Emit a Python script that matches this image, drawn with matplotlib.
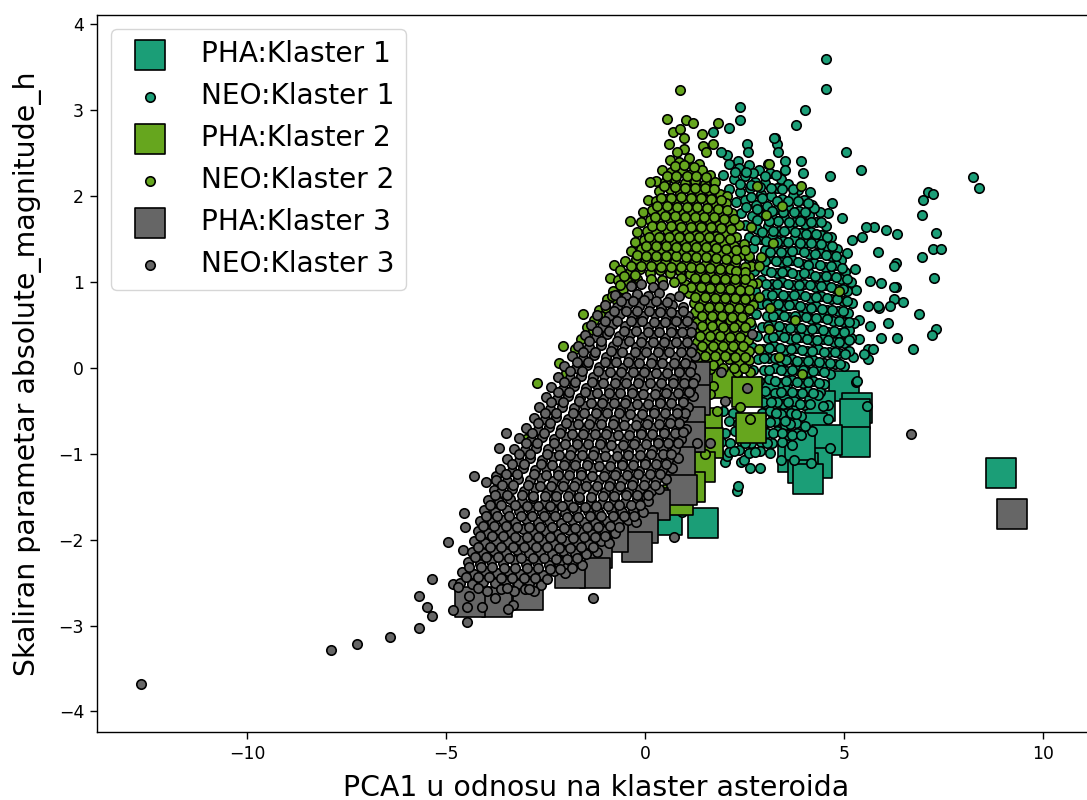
import numpy as np
import matplotlib
matplotlib.use("Agg")
import matplotlib.pyplot as plt

colors = ["#1b9e77", "#66a61e", "#666666"]
labels = ["Klaster 1", "Klaster 2", "Klaster 3"]

pha1 = [(5.0,-0.21),(5.33,-0.47),(5.28,-0.54),(5.28,-0.86),(4.4,-0.44),(4.2,-0.7),(4.57,-0.84),(3.72,-1.04),
        (4.32,-1.11),(3.97,-1.17),(4.1,-1.29),(3.5,-0.5),(3.9,-0.9),(3.3,-0.3),(8.94,-1.22),(1.46,-1.81),(0.55,-1.77)]
pha2 = [(2.06,-0.17),(2.56,-0.28),(2.66,-0.7),(1.56,-0.64),(1.58,-0.87),(1.38,-1.15),(1.13,-1.39),(0.83,-1.54)]
pha3 = [(9.22,-1.7),(1.26,-0.1),(1.26,-0.37),(1.13,-0.63),(1.13,-0.8),(0.88,-1.1),(0.93,-1.42),(0.2,-1.57),
        (0.25,-1.6),(-0.05,-1.86),(-0.2,-2.08),(-0.8,-1.97),(-1.2,-2.16),(-1.26,-2.39),(-1.88,-2.39),(-2.94,-2.65),
        (-3.72,-2.73),(-4.4,-2.73)]

neo1 = [
    (4.55,3.6),(4.55,3.25),(4.02,3.0),(3.8,2.83),(3.27,2.68),(3.3,2.61),(3.34,2.52),(5.05,2.52),(5.43,2.31),(4.65,2.24),
    (8.24,2.22),(8.39,2.09),(7.11,2.05),(7.24,2.02),(6.98,1.96),(6.96,1.78),(7.31,1.57),(7.24,1.39),(7.44,1.39),(6.96,1.29),
    (6.33,1.56),(6.06,1.61),(5.75,1.64),(5.55,1.64),(5.45,1.53),(5.2,1.49),(5.85,1.35),(7.26,1.05),(6.31,1.22),(6.26,1.19),
    (5.65,1.01),(5.93,0.99),(6.31,0.94),(6.26,0.94),(6.26,0.8),(6.48,0.77),(6.16,0.72),(5.88,0.7),(5.85,0.72),(5.6,0.72),
    (6.88,0.63),(6.11,0.52),(5.65,0.49),(5.38,0.56),(7.31,0.45),(7.21,0.38),(6.33,0.35),(5.93,0.35),(5.38,0.34),(5.18,0.35),
    (6.73,0.22),(5.6,0.22),(5.73,0.22),(5.6,0.1),(5.5,0.16),(5.3,-0.16),(5.08,1.34),(5.28,1.15),(5.3,0.91),(5.22,0.13),
    (4.7,1.92),(4.6,1.8),(4.95,1.75),(4.15,2.05),(3.97,2.27),(3.92,2.41),(3.52,2.41),(3.52,2.31),(2.39,3.04),(2.39,2.89),
    (2.11,2.79),(1.71,2.75),(3.24,2.68),(2.56,2.61),(2.59,2.51),(2.34,2.41),(2.06,2.48),(1.91,2.51),(2.3,-1.43),(2.34,-1.38),
    (2.0,-1.1),(2.4,-1.1),(2.64,-1.16),(2.89,-1.16),(2.49,-1.07),(2.06,-1.02),(3.41,-1.07),(3.74,-1.07),(4.17,-1.11),(5.33,-0.15),
    (5.58,-0.44),(4.65,-0.93),(4.2,-0.73),(4.6,-0.6),(4.6,-0.43),(4.47,-0.44),(4.4,-0.28),(0.93,-1.68),(1.26,-1.4),
    (2.1,2.38),(2.35,2.33),(2.62,2.36),(2.85,2.3),(3.14,2.27),(3.4,2.2),(1.95,2.25),(2.22,2.2),(2.5,2.24),(2.76,2.17),
    (3.02,2.15),(3.3,2.1),(3.58,2.14),(3.83,2.07),(2.1,2.08),(2.38,2.05),(2.63,2.1),(2.9,2.02),(3.17,2.0),(3.44,1.97),
    (3.72,2.0),(3.98,1.95),(4.18,1.9),(2.27,1.93),(2.52,1.96),(2.79,1.9),(3.05,1.88),(3.3,1.85),(3.6,1.88),(3.86,1.83),
    (4.12,1.78),(4.38,1.82),(2.4,1.8),(2.68,1.77),(2.95,1.78),(3.2,1.74),(3.48,1.76),(3.75,1.7),(4.02,1.68),(4.28,1.7),
    (4.55,1.65),(2.5,1.66),(2.8,1.62),(3.08,1.65),(3.35,1.6),(3.62,1.63),(3.9,1.57),(4.16,1.58),(4.42,1.55),(4.68,1.52),
    (2.6,1.52),(2.9,1.5),(3.18,1.53),(3.46,1.48),(3.74,1.5),(4.02,1.45),(4.28,1.46),(4.56,1.42),(4.82,1.38),(2.72,1.4),
    (3.0,1.37),(3.28,1.4),(3.56,1.35),(3.84,1.38),(4.12,1.33),(4.4,1.34),(4.68,1.3),(4.92,1.26),(2.62,1.27),(2.88,1.25),
    (3.14,1.28),(3.42,1.23),(3.7,1.26),(3.96,1.21),(4.24,1.22),(4.52,1.18),(4.8,1.2),(5.02,1.12),(2.74,1.13),(3.02,1.14),
    (3.3,1.1),(3.56,1.13),(3.84,1.08),(4.12,1.1),(4.38,1.06),(4.66,1.08),(4.92,1.04),(5.16,1.0),(2.62,1.0),(2.9,1.02),
    (3.18,0.98),(3.44,1.0),(3.72,0.96),(4.0,0.98),(4.26,0.94),(4.54,0.96),(4.8,0.92),(5.06,0.9),(2.76,0.89),(3.04,0.86),
    (3.32,0.88),(3.6,0.84),(3.88,0.86),(4.14,0.82),(4.42,0.84),(4.68,0.8),(4.96,0.78),(5.2,0.76),(2.64,0.76),(2.92,0.74),
    (3.2,0.76),(3.48,0.72),(3.74,0.74),(4.02,0.7),(4.3,0.72),(4.56,0.68),(4.84,0.66),(5.1,0.64),(2.78,0.63),(3.06,0.6),
    (3.34,0.63),(3.62,0.59),(3.9,0.6),(4.16,0.57),(4.44,0.59),(4.72,0.55),(4.98,0.53),(5.24,0.52),(2.66,0.5),(2.94,0.48),
    (3.22,0.5),(3.5,0.46),(3.78,0.48),(4.04,0.44),(4.32,0.46),(4.6,0.42),(4.86,0.41),(5.12,0.44),(2.8,0.37),(3.08,0.35),
    (3.36,0.38),(3.64,0.34),(3.92,0.36),(4.18,0.32),(4.46,0.34),(4.74,0.3),(5.0,0.29),(2.68,0.24),(2.96,0.22),(3.24,0.25),
    (3.52,0.21),(3.8,0.23),(4.06,0.2),(4.34,0.22),(4.62,0.18),(4.88,0.17),(5.12,0.2),(2.56,0.11),(2.84,0.1),(3.12,0.12),
    (3.4,0.08),(3.68,0.1),(3.94,0.07),(4.22,0.09),(4.5,0.06),(4.76,0.05),(5.0,0.02),(2.7,-0.02),(2.98,-0.03),(3.26,0.0),
    (3.54,-0.04),(3.82,-0.02),(4.1,-0.05),(4.36,-0.03),(4.64,-0.07),(2.86,-0.15),(3.12,-0.13),(3.4,-0.17),(3.68,-0.14),(3.96,-0.18),
    (4.22,-0.15),(4.5,-0.19),(3.0,-0.27),(3.26,-0.29),(3.54,-0.26),(3.82,-0.3),(4.08,-0.27),(4.34,-0.31),(2.96,-0.4),(3.2,-0.38),
    (3.46,-0.42),(3.74,-0.39),(4.0,-0.43),(2.2,-0.52),(2.94,-0.52),(3.14,-0.5),(3.4,-0.54),(3.66,-0.52),(3.92,-0.56),(2.1,-0.62),
    (2.34,-0.65),(3.0,-0.64),(3.26,-0.62),(3.52,-0.66),(3.78,-0.64),(4.02,-0.68),(2.0,-0.76),(2.26,-0.74),(3.06,-0.76),(3.32,-0.74),
    (3.58,-0.78),(3.82,-0.76),(1.9,-0.86),(2.14,-0.88),(2.4,-0.85),(2.66,-0.88),(2.92,-0.86),(3.18,-0.88),(3.44,-0.86),(3.68,-0.9),
    (1.84,-0.97),(2.1,-0.98),(2.36,-0.96),(2.62,-0.99),(2.88,-0.97),(3.14,-0.99),(1.8,-0.7),(1.96,-0.5),
    (2.26,2.28),(2.72,2.27),(3.0,2.24),(2.38,2.14),(2.88,2.11),(3.44,2.08),(2.66,1.99),(3.3,1.94),(3.84,1.94),(2.54,1.87),
    (3.18,1.83),(3.74,1.82),(4.25,1.86),(2.82,1.72),(3.34,1.71),(3.88,1.71),(4.42,1.7),(2.94,1.58),(3.48,1.6),(4.04,1.56),
    (4.56,1.53),(2.76,1.49),(3.32,1.47),(3.88,1.45),(4.42,1.44),(3.14,1.35),(3.7,1.36),(4.26,1.33),(4.8,1.3),(3.0,1.25),
    (3.56,1.24),(4.1,1.2),(4.66,1.19),(3.16,1.12),(3.7,1.11),(4.26,1.07),(4.8,1.06),(3.04,0.98),(3.58,0.98),(4.14,0.96),
    (4.68,0.94),(3.18,0.85),(3.74,0.85),(4.28,0.83),(4.82,0.8),(3.06,0.74),(3.62,0.73),(4.16,0.7),(4.7,0.68),(3.2,0.61),
    (3.76,0.6),(4.3,0.58),(4.86,0.55),(3.08,0.49),(3.64,0.47),(4.18,0.45),(4.74,0.43),(3.22,0.36),(3.78,0.35),(4.32,0.33),
    (4.86,0.3),(3.1,0.23),(3.66,0.22),(4.2,0.2),(4.76,0.18),(2.98,0.11),(3.54,0.09),(4.08,0.08),(4.64,0.06),(3.12,-0.02),
    (3.68,-0.03),(4.22,-0.04),(3.26,-0.15),(3.82,-0.16),(4.36,-0.17),(3.4,-0.28),(3.94,-0.29),(3.32,-0.4),(3.88,-0.42),(3.28,-0.52),
    (3.78,-0.54),(3.14,-0.63),(3.64,-0.65),(3.2,-0.76),(3.7,-0.78),(3.05,-0.87),(2.52,-0.87),(2.24,-0.97),(2.76,-0.98),
    (2.54,2.28),(3.28,2.25),(2.66,2.13),(3.16,2.1),(3.72,2.08),(2.94,1.98),(3.58,1.94),(4.1,1.92),(2.82,1.85),(3.46,1.82),
    (4.02,1.82),(3.1,1.71),(3.62,1.7),(4.16,1.7),(3.22,1.59),(3.76,1.58),(4.3,1.56),(3.04,1.48),(3.6,1.47),(4.16,1.45),
    (4.7,1.42),(3.42,1.35),(3.98,1.35),(4.54,1.32),(3.28,1.24),(3.84,1.23),(4.38,1.2),(4.94,1.16),(3.44,1.12),(3.98,1.1),
    (4.54,1.07),(5.06,1.04),(3.32,0.98),(3.86,0.97),(4.42,0.95),(4.96,0.92),(3.46,0.85),(4.02,0.84),(4.56,0.82),(5.08,0.78),
    (3.34,0.74),(3.9,0.72),(4.44,0.69),(4.98,0.66),(3.48,0.61),(4.04,0.59),(4.58,0.57),(5.12,0.54),(3.36,0.49),(3.92,0.46),
    (4.46,0.44),(5.0,0.42),(3.5,0.36),(4.06,0.34),(4.6,0.32),(5.12,0.32),(3.38,0.23),(3.94,0.21),(4.48,0.19),(5.02,0.16),
    (3.26,0.11),(3.82,0.08),(4.36,0.07),(4.9,0.05),(3.4,-0.02),(3.96,-0.03),(4.5,-0.05),(3.54,-0.15),(4.1,-0.16),(3.68,-0.28),
    (4.22,-0.29),(3.6,-0.4),(3.16,-0.4),(4.14,-0.42),(3.52,-0.62),(3.44,-0.76),(3.92,-0.78),
]

neo2 = [
    (0.88,3.24),(0.55,2.9),(1.03,2.89),(1.21,2.85),(1.83,2.85),(0.7,2.75),(0.88,2.78),(0.98,2.68),(0.6,2.61),(1.43,2.72),
    (1.71,2.61),(1.46,2.58),(0.98,2.55),(0.8,2.51),(1.53,2.51),(3.09,2.38),(-0.38,1.71),(-1.56,0.63),(-0.78,1.2),(-0.88,1.05),
    (-2.71,-0.17),(-2.06,0.26),(-2.16,0.06),(-1.98,-0.06),(-3.0,-0.83),(-4.15,-2.53),(3.12,2.38),(3.92,2.12),(3.44,1.88),(3.04,1.78),
    (2.66,1.64),(3.22,1.46),(2.91,1.29),(2.66,1.19),(2.86,1.19),(2.81,0.99),(2.86,0.83),(3.14,0.7),(4.87,0.89),(3.77,0.56),
    (3.12,0.45),(2.86,0.22),(3.37,0.13),(3.94,-0.07),(2.64,-0.59),(1.51,-1.0),(1.81,-0.5),(2.39,-0.46),(1.71,-0.21),(2.31,-0.05),
    (2.64,-0.05),(0.62,2.42),(0.85,2.4),(1.1,2.44),(1.34,2.38),(0.42,2.3),(0.66,2.28),(0.92,2.31),(1.16,2.26),(1.42,2.3),
    (1.64,2.25),(0.26,2.18),(0.5,2.17),(0.76,2.2),(1.0,2.15),(1.26,2.18),(1.5,2.14),(1.76,2.16),(2.8,2.12),(0.13,2.16),
    (0.36,2.06),(0.62,2.08),(0.88,2.04),(1.12,2.07),(1.38,2.03),(1.62,2.06),(1.88,2.02),(2.06,2.0),(0.06,1.96),(0.28,1.94),
    (0.52,1.97),(0.78,1.93),(1.02,1.96),(1.28,1.92),(1.54,1.95),(1.78,1.9),(2.02,1.92),(-0.05,1.82),(0.18,1.84),(0.42,1.81),
    (0.68,1.85),(0.94,1.8),(1.18,1.83),(1.44,1.79),(1.68,1.82),(1.94,1.78),(2.18,1.8),(-0.1,1.7),(0.12,1.72),(0.36,1.69),
    (0.62,1.73),(0.86,1.68),(1.12,1.71),(1.36,1.67),(1.62,1.7),(1.86,1.66),(2.12,1.68),(2.36,1.66),(-0.2,1.58),(0.04,1.6),
    (0.28,1.57),(0.54,1.61),(0.78,1.56),(1.04,1.59),(1.28,1.55),(1.54,1.58),(1.78,1.54),(2.04,1.57),(2.28,1.53),(-0.25,1.47),
    (-0.02,1.49),(0.22,1.46),(0.48,1.5),(0.72,1.45),(0.98,1.48),(1.22,1.44),(1.48,1.47),(1.72,1.43),(1.98,1.46),(2.22,1.42),
    (2.48,1.44),(-0.35,1.36),(-0.1,1.38),(0.14,1.34),(0.4,1.38),(0.64,1.33),(0.9,1.36),(1.14,1.32),(1.4,1.35),(1.64,1.31),
    (1.9,1.34),(2.14,1.3),(2.4,1.32),(2.6,1.3),(-0.5,1.25),(-0.24,1.27),(0.0,1.23),(0.26,1.26),(0.5,1.22),(0.76,1.25),
    (1.0,1.21),(1.26,1.24),(1.5,1.2),(1.76,1.23),(2.0,1.19),(2.26,1.22),(2.5,1.18),(-0.62,1.14),(-0.38,1.12),(-0.12,1.15),
    (0.12,1.11),(0.38,1.14),(0.62,1.1),(0.88,1.13),(1.12,1.09),(1.38,1.12),(1.62,1.08),(1.88,1.11),(2.12,1.07),(2.38,1.1),
    (2.6,1.06),(-0.68,1.02),(-0.44,1.0),(-0.2,1.03),(1.0,0.98),(1.26,1.01),(1.5,0.97),(1.76,1.0),(2.0,0.96),(2.26,0.99),
    (2.5,0.95),(2.68,0.98),(-0.8,0.9),(-0.56,0.92),(-0.95,0.8),(-0.7,0.78),(1.1,0.87),(1.36,0.9),(1.6,0.86),(1.86,0.89),
    (2.1,0.85),(2.36,0.88),(2.6,0.84),(-1.15,0.68),(-0.98,0.7),(1.22,0.76),(1.46,0.79),(1.72,0.75),(1.96,0.78),(2.22,0.74),
    (2.46,0.77),(2.7,0.73),(-1.28,0.56),(-1.1,0.6),(1.26,0.65),(1.54,0.67),(1.8,0.64),(2.04,0.67),(2.3,0.63),(2.56,0.66),
    (-1.46,0.48),(-1.3,0.44),(1.3,0.53),(1.62,0.55),(1.88,0.52),(2.12,0.56),(2.38,0.52),(2.64,0.54),(-1.6,0.34),(1.26,0.42),
    (1.5,0.44),(1.76,0.41),(2.0,0.44),(2.26,0.4),(2.5,0.43),(-1.75,0.22),(1.3,0.3),(1.56,0.33),(1.82,0.3),(2.08,0.33),
    (2.32,0.29),(2.58,0.32),(1.36,0.19),(1.62,0.21),(1.88,0.18),(2.14,0.22),(2.38,0.18),(2.62,0.2),(1.32,0.08),(1.58,0.1),
    (1.84,0.07),(2.1,0.1),(2.36,0.06),(2.6,0.09),(1.4,-0.03),(1.64,-0.01),(1.44,-0.14),(1.62,-0.3),(1.48,-0.45),
    (0.74,2.35),(1.22,2.34),(0.54,2.23),(1.04,2.24),(1.52,2.22),(0.48,2.12),(1.0,2.1),(1.5,2.09),(0.4,1.98),(0.9,1.99),
    (1.4,1.98),(1.9,1.96),(0.3,1.88),(0.8,1.87),(1.3,1.87),(1.82,1.85),(0.24,1.76),(0.74,1.77),(1.24,1.76),(1.74,1.76),
    (2.24,1.73),(0.16,1.65),(0.66,1.65),(1.16,1.64),(1.66,1.64),(2.16,1.62),(0.1,1.53),(0.6,1.53),(1.1,1.52),(1.6,1.52),
    (2.12,1.5),(0.02,1.42),(0.52,1.42),(1.02,1.41),(1.52,1.41),(2.02,1.38),(2.52,1.37),(-0.2,1.31),(0.28,1.3),(0.78,1.3),
    (1.28,1.29),(1.78,1.28),(2.28,1.27),(-0.36,1.19),(0.14,1.19),(0.64,1.18),(1.14,1.17),(1.64,1.16),(2.14,1.15),(2.52,1.12),
    (-0.52,1.07),(-0.26,1.08),(0.9,1.05),(1.5,1.05),(2.0,1.04),(2.5,1.03),(-0.64,0.96),(-0.34,0.96),(1.16,0.94),(1.64,0.93),
    (2.14,0.92),(2.62,0.91),(-0.84,0.84),(-0.52,0.82),(1.26,0.83),(1.76,0.82),(2.26,0.81),(1.36,0.71),(1.86,0.71),(2.36,0.7),
    (1.42,0.6),(1.92,0.6),(2.42,0.59),(1.42,0.49),(1.96,0.48),(2.5,0.48),(1.38,0.37),(1.88,0.37),(2.38,0.36),(1.44,0.25),
    (1.96,0.25),(2.46,0.25),(1.5,0.14),(2.0,0.14),(2.5,0.13),(1.46,0.03),(1.96,0.0),(2.48,0.0),
    (0.98,2.36),(0.78,2.24),(1.28,2.24),(0.74,2.11),(1.25,2.1),(1.74,2.08),(0.65,1.98),(1.15,1.98),(1.66,1.97),(0.55,1.88),
    (1.05,1.87),(1.56,1.86),(2.06,1.84),(0.49,1.77),(0.99,1.76),(1.49,1.76),(1.99,1.74),(0.41,1.65),(0.91,1.64),(1.41,1.64),
    (1.91,1.63),(0.35,1.53),(0.85,1.52),(1.35,1.52),(1.86,1.51),(0.27,1.42),(0.77,1.41),(1.27,1.41),(1.77,1.4),(2.28,1.37),
    (0.03,1.3),(0.53,1.3),(1.03,1.29),(1.53,1.29),(2.03,1.27),(-0.11,1.19),(0.39,1.18),(0.89,1.17),(1.39,1.16),(1.89,1.15),
    (2.27,1.13),(1.25,1.05),(1.75,1.04),(2.25,1.03),(1.41,0.94),(1.89,0.93),(2.39,0.91),(1.51,0.83),(2.01,0.82),(2.51,0.8),
    (1.61,0.71),(2.11,0.7),(2.61,0.69),(1.67,0.6),(2.17,0.59),(1.69,0.49),(2.23,0.48),(1.63,0.37),(2.13,0.36),(1.71,0.25),
    (2.21,0.25),(1.75,0.14),(2.25,0.13),(1.71,0.03),(2.22,0.0),(0.95,0.92),(0.72,1.0),(0.42,1.02),(0.15,1.03),
]

neo3 = [
    (-12.66,-3.68),(-7.89,-3.29),(-7.24,-3.22),(-6.41,-3.13),(6.68,-0.77),(-5.68,-3.03),(-5.35,-2.89),(-5.48,-2.78),(-5.68,-2.66),
    (-5.35,-2.46),(-4.95,-2.03),(-4.55,-1.69),(-4.52,-1.85),(-4.57,-2.12),(-4.3,-1.26),(-4.0,-1.33),(-3.74,-1.26),(-3.67,-0.93),
    (-3.49,-0.76),(-4.82,-2.52),(-1.31,-2.68),(-4.47,-2.96),(-4.82,-2.82),(-4.42,-2.66),(-4.47,-2.79),(-4.1,-2.79),(-3.77,-2.68),
    (-3.32,-2.76),(-3.44,-2.81),(0.73,-1.97),(1.91,-0.05),(2.56,-0.23),(2.01,-0.38),(1.31,-0.87),(1.63,-0.87),(2.69,0.4),
    (-0.35,0.95),(-0.1,0.98),(0.2,0.94),(0.45,0.96),(-0.75,0.85),(-0.48,0.83),(-0.2,0.86),(0.08,0.84),(0.34,0.87),(0.62,0.82),
    (0.85,0.84),(-1.0,0.73),(-0.72,0.71),(-0.44,0.74),(-0.16,0.72),(0.12,0.75),(0.4,0.7),(0.68,0.73),(0.96,0.71),(-1.2,0.62),
    (-0.92,0.6),(-0.64,0.63),(-0.34,0.61),(-0.06,0.6),(0.24,0.63),(0.52,0.59),(0.8,0.62),(1.08,0.6),(-1.35,0.5),(-1.08,0.48),
    (-0.8,0.51),(-0.5,0.49),(-0.22,0.52),(0.08,0.48),(0.36,0.5),(0.64,0.47),(0.92,0.51),(1.18,0.49),(-1.52,0.38),(-1.24,0.36),
    (-0.96,0.39),(-0.66,0.37),(-0.38,0.4),(-0.08,0.36),(0.2,0.38),(0.5,0.35),(0.78,0.39),(1.06,0.37),(-1.68,0.26),(-1.4,0.24),
    (-1.12,0.27),(-0.82,0.25),(-0.54,0.28),(-0.24,0.24),(0.04,0.26),(0.34,0.23),(0.62,0.27),(0.9,0.25),(1.18,0.23),(-1.85,0.14),
    (-1.56,0.12),(-1.28,0.15),(-0.98,0.13),(-0.7,0.16),(-0.4,0.12),(-0.12,0.14),(0.18,0.11),(0.46,0.15),(0.76,0.13),(1.04,0.11),
    (1.26,0.14),(-2.03,0.02),(-1.74,0.0),(-1.46,0.03),(-1.16,0.01),(-0.88,0.04),(-0.58,0.0),(-0.3,0.02),(0.0,-0.01),(0.28,0.03),
    (0.58,0.01),(0.86,-0.01),(1.14,0.02),(-2.2,-0.1),(-1.9,-0.12),(-1.62,-0.09),(-1.32,-0.11),(-1.04,-0.08),(-0.74,-0.12),(-0.46,-0.1),
    (-0.16,-0.13),(0.12,-0.09),(0.42,-0.11),(0.7,-0.13),(1.0,-0.1),(1.24,-0.12),(-2.36,-0.22),(-2.06,-0.24),(-1.78,-0.21),(-1.48,-0.23),
    (-1.2,-0.2),(-0.9,-0.24),(-0.62,-0.22),(-0.32,-0.25),(-0.04,-0.21),(0.26,-0.23),(0.54,-0.25),(0.84,-0.22),(1.12,-0.24),(-2.5,-0.34),
    (-2.22,-0.36),(-1.94,-0.33),(-1.64,-0.35),(-1.36,-0.32),(-1.06,-0.36),(-0.78,-0.34),(-0.48,-0.37),(-0.2,-0.33),(0.1,-0.35),(0.38,-0.37),
    (0.68,-0.34),(0.96,-0.36),(1.2,-0.33),(-2.66,-0.46),(-2.38,-0.48),(-2.1,-0.45),(-1.8,-0.47),(-1.52,-0.44),(-1.22,-0.48),(-0.94,-0.46),
    (-0.64,-0.49),(-0.36,-0.45),(-0.06,-0.47),(0.22,-0.49),(0.52,-0.46),(0.8,-0.48),(1.08,-0.45),(-2.8,-0.58),(-2.52,-0.6),(-2.24,-0.57),
    (-1.94,-0.59),(-1.66,-0.56),(-1.36,-0.6),(-1.08,-0.58),(-0.78,-0.61),(-0.5,-0.57),(-0.2,-0.59),(0.08,-0.61),(0.38,-0.58),(0.66,-0.6),
    (0.96,-0.57),(-3.0,-0.7),(-2.7,-0.72),(-2.42,-0.69),(-2.12,-0.71),(-1.84,-0.68),(-1.54,-0.72),(-1.26,-0.7),(-0.96,-0.73),(-0.68,-0.69),
    (-0.38,-0.71),(-0.1,-0.73),(0.2,-0.7),(0.48,-0.72),(0.78,-0.69),(1.02,-0.71),(-3.16,-0.82),(-2.86,-0.84),(-2.58,-0.81),(-2.28,-0.83),
    (-2.0,-0.8),(-1.7,-0.84),(-1.42,-0.82),(-1.12,-0.85),(-0.84,-0.81),(-0.54,-0.83),(-0.26,-0.85),(0.04,-0.82),(0.32,-0.84),(0.62,-0.81),
    (0.9,-0.83),(-3.3,-0.94),(-3.02,-0.96),(-2.74,-0.93),(-2.44,-0.95),(-2.16,-0.92),(-1.86,-0.96),(-1.58,-0.94),(-1.28,-0.97),(-1.0,-0.93),
    (-0.7,-0.95),(-0.42,-0.97),(-0.12,-0.94),(0.16,-0.96),(0.46,-0.93),(0.74,-0.95),(-3.46,-1.06),(-3.18,-1.08),(-2.9,-1.05),(-2.6,-1.07),
    (-2.32,-1.04),(-2.02,-1.08),(-1.74,-1.06),(-1.44,-1.09),(-1.16,-1.05),(-0.86,-1.07),(-0.58,-1.09),(-0.28,-1.06),(0.0,-1.08),(0.3,-1.05),
    (0.58,-1.07),(0.82,-1.05),(-3.64,-1.18),(-3.34,-1.2),(-3.06,-1.17),(-2.76,-1.19),(-2.48,-1.16),(-2.18,-1.2),(-1.9,-1.18),(-1.6,-1.21),
    (-1.32,-1.17),(-1.02,-1.19),(-0.74,-1.21),(-0.44,-1.18),(-0.16,-1.2),(0.14,-1.17),(0.42,-1.19),(0.68,-1.17),(-3.75,-1.3),(-3.48,-1.32),
    (-3.2,-1.29),(-2.9,-1.31),(-2.62,-1.28),(-2.32,-1.32),(-2.04,-1.3),(-1.74,-1.33),(-1.46,-1.29),(-1.16,-1.31),(-0.88,-1.33),(-0.58,-1.3),
    (-0.3,-1.32),(0.0,-1.29),(0.28,-1.31),(0.52,-1.29),(-3.8,-1.42),(-3.62,-1.44),(-3.34,-1.41),(-3.04,-1.43),(-2.76,-1.4),(-2.46,-1.44),
    (-2.18,-1.42),(-1.88,-1.45),(-1.6,-1.41),(-1.3,-1.43),(-1.02,-1.45),(-0.72,-1.42),(-0.44,-1.44),(-0.14,-1.41),(0.14,-1.43),(0.36,-1.41),
    (-3.95,-1.54),(-3.68,-1.56),(-3.4,-1.53),(-3.1,-1.55),(-2.82,-1.52),(-2.52,-1.56),(-2.24,-1.54),(-1.94,-1.57),(-1.66,-1.53),(-1.36,-1.55),
    (-1.08,-1.57),(-0.78,-1.54),(-0.5,-1.56),(-0.2,-1.53),(0.06,-1.55),(-4.05,-1.66),(-3.76,-1.68),(-3.48,-1.65),(-3.18,-1.67),(-2.9,-1.64),
    (-2.6,-1.68),(-2.32,-1.66),(-2.02,-1.69),(-1.74,-1.65),(-1.44,-1.67),(-1.16,-1.69),(-0.86,-1.66),(-0.58,-1.68),(-0.3,-1.65),(-0.06,-1.68),
    (-4.15,-1.78),(-3.86,-1.8),(-3.58,-1.77),(-3.28,-1.79),(-3.0,-1.76),(-2.7,-1.8),(-2.42,-1.78),(-2.12,-1.81),(-1.84,-1.77),(-1.54,-1.79),
    (-1.26,-1.81),(-0.96,-1.78),(-0.68,-1.8),(-0.42,-1.77),(-0.24,-1.8),(-4.2,-1.9),(-3.94,-1.92),(-3.66,-1.89),(-3.36,-1.91),(-3.08,-1.88),
    (-2.78,-1.92),(-2.5,-1.9),(-2.2,-1.93),(-1.92,-1.89),(-1.62,-1.91),(-1.34,-1.93),(-1.04,-1.9),(-0.76,-1.92),(-4.3,-2.02),(-4.02,-2.04),
    (-3.74,-2.01),(-3.44,-2.03),(-3.16,-2.0),(-2.86,-2.04),(-2.58,-2.02),(-2.28,-2.05),(-2.0,-2.01),(-1.7,-2.03),(-1.42,-2.05),(-1.12,-2.02),
    (-0.92,-2.04),(-4.35,-2.14),(-4.08,-2.16),(-3.8,-2.13),(-3.5,-2.15),(-3.22,-2.12),(-2.92,-2.16),(-2.64,-2.14),(-2.34,-2.17),(-2.06,-2.13),
    (-1.76,-2.15),(-1.48,-2.17),(-1.22,-2.14),(-4.45,-2.26),(-4.16,-2.28),(-3.88,-2.25),(-3.58,-2.27),(-3.3,-2.24),(-3.0,-2.28),(-2.72,-2.26),
    (-2.42,-2.29),(-2.14,-2.25),(-1.84,-2.27),(-1.58,-2.29),(-4.6,-2.38),(-4.3,-2.4),(-4.02,-2.37),(-3.72,-2.39),(-3.44,-2.36),(-3.14,-2.4),
    (-2.86,-2.38),(-2.56,-2.41),(-2.28,-2.37),(-2.02,-2.39),(-4.65,-2.5),(-4.36,-2.52),(-4.08,-2.49),(-3.78,-2.51),(-3.5,-2.48),(-3.2,-2.52),
    (-2.92,-2.5),(-2.62,-2.53),(-4.7,-2.55),(-3.98,-2.6),(-3.62,-2.58),(-3.3,-2.6),(-3.02,-2.58),(-2.78,-2.6),
    (-0.6,0.78),(-0.02,0.79),(0.55,0.77),(-0.78,0.66),(-0.2,0.66),(0.38,0.65),(0.94,0.66),(-1.0,0.55),(-0.36,0.55),(0.22,0.54),
    (0.78,0.55),(-1.2,0.43),(-0.52,0.43),(0.06,0.42),(0.64,0.42),(1.16,0.42),(-1.4,0.31),(-0.7,0.31),(-0.1,0.3),(0.48,0.3),
    (1.04,0.3),(-1.55,0.19),(-0.86,0.2),(-0.26,0.19),(0.32,0.18),(0.9,0.18),(-1.72,0.07),(-1.02,0.07),(-0.44,0.07),(0.14,0.06),
    (0.72,0.06),(-1.88,-0.04),(-1.18,-0.04),(-0.6,-0.05),(-0.02,-0.05),(0.56,-0.06),(1.12,-0.05),(-2.04,-0.16),(-1.34,-0.16),(-0.76,-0.17),
    (-0.18,-0.17),(0.4,-0.18),(0.98,-0.17),(-2.2,-0.28),(-1.5,-0.28),(-0.92,-0.29),(-0.34,-0.29),(0.24,-0.3),(0.82,-0.29),(-2.36,-0.4),
    (-1.66,-0.39),(-1.08,-0.41),(-0.5,-0.41),(0.08,-0.42),(0.66,-0.41),(-2.52,-0.52),(-1.82,-0.52),(-1.24,-0.53),(-0.66,-0.53),(-0.08,-0.54),
    (0.5,-0.53),(1.0,-0.52),(-2.68,-0.64),(-1.98,-0.64),(-1.4,-0.65),(-0.82,-0.65),(-0.24,-0.66),(0.34,-0.65),(0.84,-0.64),(-2.84,-0.76),
    (-2.14,-0.76),(-1.56,-0.77),(-0.98,-0.77),(-0.4,-0.78),(0.18,-0.77),(0.74,-0.76),(-3.0,-0.88),(-2.3,-0.88),(-1.72,-0.89),(-1.14,-0.89),
    (-0.56,-0.9),(0.02,-0.89),(0.58,-0.88),(-3.18,-1.0),(-2.46,-1.0),(-1.88,-1.01),(-1.3,-1.01),(-0.72,-1.02),(-0.14,-1.01),(0.44,-1.0),
    (-3.34,-1.12),(-2.62,-1.12),(-2.04,-1.13),(-1.46,-1.13),(-0.88,-1.14),(-0.3,-1.13),(0.28,-1.12),(-3.5,-1.24),(-2.78,-1.24),(-2.2,-1.25),
    (-1.62,-1.25),(-1.04,-1.26),(-0.46,-1.25),(0.12,-1.24),(-3.6,-1.36),(-2.94,-1.36),(-2.36,-1.37),(-1.78,-1.37),(-1.2,-1.38),(-0.62,-1.37),
    (-0.04,-1.36),(-3.76,-1.48),(-3.1,-1.48),(-2.52,-1.49),(-1.94,-1.49),(-1.36,-1.5),(-0.78,-1.49),(-0.2,-1.48),(-3.9,-1.6),(-3.26,-1.6),
    (-2.68,-1.61),(-2.1,-1.61),(-1.52,-1.62),(-0.94,-1.61),(-0.36,-1.6),(-4.0,-1.72),(-3.42,-1.72),(-2.84,-1.73),(-2.26,-1.73),(-1.68,-1.74),
    (-1.1,-1.73),(-0.52,-1.72),(-4.08,-1.84),(-3.5,-1.84),(-2.92,-1.85),(-2.34,-1.85),(-1.76,-1.86),(-1.18,-1.85),(-0.66,-1.85),(-4.14,-1.96),
    (-3.56,-1.96),(-2.98,-1.97),(-2.4,-1.97),(-1.82,-1.98),(-1.26,-1.97),(-4.2,-2.08),(-3.62,-2.08),(-3.04,-2.09),(-2.46,-2.09),(-1.88,-2.1),
    (-1.32,-2.09),(-4.28,-2.2),(-3.7,-2.2),(-3.12,-2.21),(-2.54,-2.21),(-1.96,-2.22),(-4.42,-2.32),(-3.84,-2.32),(-3.26,-2.33),(-2.68,-2.33),
    (-2.14,-2.34),(-4.5,-2.44),(-3.92,-2.44),(-3.34,-2.45),(-2.76,-2.45),(-4.2,-2.56),(-3.46,-2.56),(-2.92,-2.57),
    (-0.31,0.78),(0.26,0.78),(-0.49,0.66),(0.09,0.66),(0.66,0.65),(-0.71,0.55),(-0.07,0.55),(0.51,0.54),(1.06,0.55),(-0.91,0.43),
    (-0.23,0.43),(0.35,0.42),(0.93,0.42),(-1.11,0.31),(-0.41,0.31),(0.19,0.3),(0.77,0.3),(-1.26,0.19),(-0.57,0.19),(0.03,0.18),
    (0.61,0.18),(1.16,0.18),(-1.43,0.07),(-0.73,0.07),(-0.15,0.06),(0.43,0.06),(1.0,0.06),(-1.59,-0.04),(-0.89,-0.05),(-0.31,-0.05),
    (0.27,-0.06),(0.85,-0.05),(-1.75,-0.16),(-1.05,-0.17),(-0.47,-0.17),(0.11,-0.18),(0.69,-0.17),(1.2,-0.17),(-1.91,-0.28),(-1.21,-0.29),
    (-0.63,-0.29),(-0.05,-0.3),(0.53,-0.29),(1.1,-0.28),(-2.07,-0.4),(-1.37,-0.41),(-0.79,-0.41),(-0.21,-0.42),(0.37,-0.41),(0.95,-0.4),
    (-2.23,-0.52),(-1.53,-0.53),(-0.95,-0.53),(-0.37,-0.54),(0.21,-0.53),(0.79,-0.52),(-2.39,-0.64),(-1.69,-0.65),(-1.11,-0.65),(-0.53,-0.66),
    (0.05,-0.65),(0.63,-0.64),(-2.55,-0.76),(-1.85,-0.77),(-1.27,-0.77),(-0.69,-0.78),(-0.11,-0.77),(0.47,-0.76),(0.95,-0.75),(-2.71,-0.88),
    (-2.01,-0.89),(-1.43,-0.89),(-0.85,-0.9),(-0.27,-0.89),(0.31,-0.88),(0.82,-0.88),(-2.89,-1.0),(-2.17,-1.01),(-1.59,-1.01),(-1.01,-1.02),
    (-0.43,-1.01),(0.15,-1.0),(0.66,-1.0),(-3.05,-1.12),(-2.33,-1.13),(-1.75,-1.13),(-1.17,-1.14),(-0.59,-1.13),(-0.01,-1.12),(0.52,-1.12),
    (-3.21,-1.24),(-2.49,-1.25),(-1.91,-1.25),(-1.33,-1.26),(-0.75,-1.25),(-0.17,-1.24),(0.38,-1.24),(-3.31,-1.36),(-2.65,-1.37),(-2.07,-1.37),
    (-1.49,-1.38),(-0.91,-1.37),(-0.33,-1.36),(0.24,-1.36),(-3.47,-1.48),(-2.81,-1.49),(-2.23,-1.49),(-1.65,-1.5),(-1.07,-1.49),(-0.49,-1.48),
    (0.08,-1.48),(-3.61,-1.6),(-2.97,-1.61),(-2.39,-1.61),(-1.81,-1.62),(-1.23,-1.61),(-0.65,-1.6),(-0.12,-1.6),(-3.71,-1.72),(-3.13,-1.73),
    (-2.55,-1.73),(-1.97,-1.74),(-1.39,-1.73),(-0.81,-1.72),(-0.28,-1.72),(-3.79,-1.84),(-3.21,-1.85),(-2.63,-1.85),(-2.05,-1.86),(-1.47,-1.85),
    (-0.89,-1.84),(-3.85,-1.96),(-3.27,-1.97),(-2.69,-1.97),(-2.11,-1.98),(-1.53,-1.97),(-1.0,-1.96),(-3.91,-2.08),(-3.33,-2.09),(-2.75,-2.09),
    (-2.17,-2.1),(-1.6,-2.09),(-3.99,-2.2),(-3.41,-2.21),(-2.83,-2.21),(-2.25,-2.22),(-1.7,-2.21),(-4.13,-2.32),(-3.55,-2.33),(-2.97,-2.33),
    (-2.39,-2.34),(-1.85,-2.33),(-4.21,-2.44),(-3.63,-2.45),(-3.05,-2.45),(-2.47,-2.46),
]

pha_groups = [pha1, pha2, pha3]
neo_groups = [neo1, neo2, neo3]

fig = plt.figure(figsize=(10.87, 8), dpi=100)
ax = fig.add_axes([97 / 1087, 1 - 732 / 800, (1095 - 97) / 1087, (732 - 15) / 800])

for i in range(3):
    pha = np.array(pha_groups[i])
    neo = np.array(neo_groups[i])
    ax.scatter(pha[:, 0], pha[:, 1], s=450, marker="s", color=colors[i], edgecolor="black",
               linewidth=1.2, label="PHA:" + labels[i])
    ax.scatter(neo[:, 0], neo[:, 1], s=46, marker="o", color=colors[i], edgecolor="black",
               linewidth=1.2, label="NEO:" + labels[i])

ax.set_xlim(-13.77, 11.3)
ax.set_ylim(-4.24, 4.11)
ax.set_xticks([-10, -5, 0, 5, 10])
ax.set_yticks([-4, -3, -2, -1, 0, 1, 2, 3, 4])
ax.set_xticklabels(["\u221210", "\u22125", "0", "5", "10"])
ax.set_yticklabels(["\u22124", "\u22123", "\u22122", "\u22121", "0", "1", "2", "3", "4"])
ax.tick_params(labelsize=12.4, length=5, width=1, pad=4.3)
for spine in ax.spines.values():
    spine.set_linewidth(1.0)
ax.set_xlabel("PCA1 u odnosu na klaster asteroida", fontsize=20.4, labelpad=8)
ax.set_ylabel("Skaliran parametar absolute_magnitude_h", fontsize=20.4, labelpad=12)
leg = ax.legend(loc="upper left", fontsize=20.2, markerscale=1.0)

fig.savefig("out.png", dpi=100)
